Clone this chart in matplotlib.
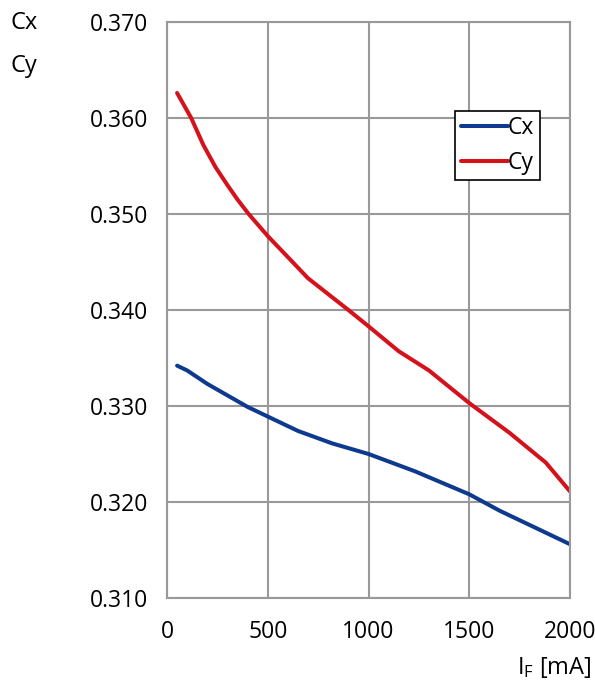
import matplotlib
matplotlib.use("Agg")
import matplotlib.pyplot as plt
import matplotlib.ticker as ticker

plt.rcParams['font.family'] = ['Open Sans', 'DejaVu Sans']
plt.rcParams['mathtext.fontset'] = 'custom'
plt.rcParams['mathtext.rm'] = 'Open Sans'

# chromaticity vs forward current
cy_current = [50, 120, 180, 240, 300, 350, 405, 500, 600, 700, 900, 1000,
              1150, 1300, 1500, 1700, 1880, 2000]
cy_values = [0.3626, 0.3600, 0.3572, 0.3549, 0.3530, 0.3515, 0.3500,
             0.3477, 0.3455, 0.3433, 0.3400, 0.3383, 0.3357, 0.3337,
             0.3303, 0.3272, 0.3241, 0.3211]

cx_current = [50, 100, 200, 400, 500, 650, 820, 1000, 1230, 1500, 1650, 2000]
cx_values = [0.3342, 0.3337, 0.3323, 0.3299, 0.3289, 0.3274, 0.3261,
             0.3250, 0.3232, 0.3208, 0.3191, 0.3156]

x_ticks = [0, 500, 1000, 1500, 2000]
y_ticks = [0.310, 0.320, 0.330, 0.340, 0.350, 0.360, 0.370]


def main():
    fig = plt.figure(figsize=(5.95, 6.86), dpi=100)
    ax = fig.add_axes([0.2807, 0.1283, 0.6773, 0.8397])

    ax.plot(cx_current, cx_values, color='#0d3a8e', lw=2.9, label='Cx',
            solid_capstyle='round', solid_joinstyle='round')
    ax.plot(cy_current, cy_values, color='#d5121c', lw=2.9, label='Cy',
            solid_capstyle='round', solid_joinstyle='round')

    ax.set_xlim(0, 2000)
    ax.set_ylim(0.310, 0.370)
    ax.set_xticks(x_ticks)
    ax.set_yticks(y_ticks)
    ax.yaxis.set_major_formatter(ticker.FormatStrFormatter('%.3f'))
    ax.grid(True, color='#999999', lw=1.5)
    ax.set_axisbelow(True)
    for s in ax.spines.values():
        s.set_color('#999999')
        s.set_linewidth(1.5)
    ax.tick_params(length=0, labelsize=16.5, colors='black')
    ax.tick_params(axis='x', pad=16)
    ax.tick_params(axis='y', pad=13.5)

    leg = ax.legend(loc='upper right', bbox_to_anchor=(0.926, 0.846),
                    borderaxespad=0, fontsize=16.5, handlelength=2.05,
                    handletextpad=0.0, borderpad=0.25, labelspacing=0.45,
                    fancybox=False, framealpha=1, edgecolor='black')
    leg.get_frame().set_linewidth(1.2)

    fig.text(0.018, 0.966, 'Cx', fontsize=17, va='center', ha='left')
    fig.text(0.018, 0.904, 'Cy', fontsize=17, va='center', ha='left')
    fig.text(0.994, 0.027, r'$\mathregular{I_F}$ [mA]', fontsize=17,
             ha='right', va='center')

    fig.savefig('out.png', dpi=100)


if __name__ == '__main__':
    main()
